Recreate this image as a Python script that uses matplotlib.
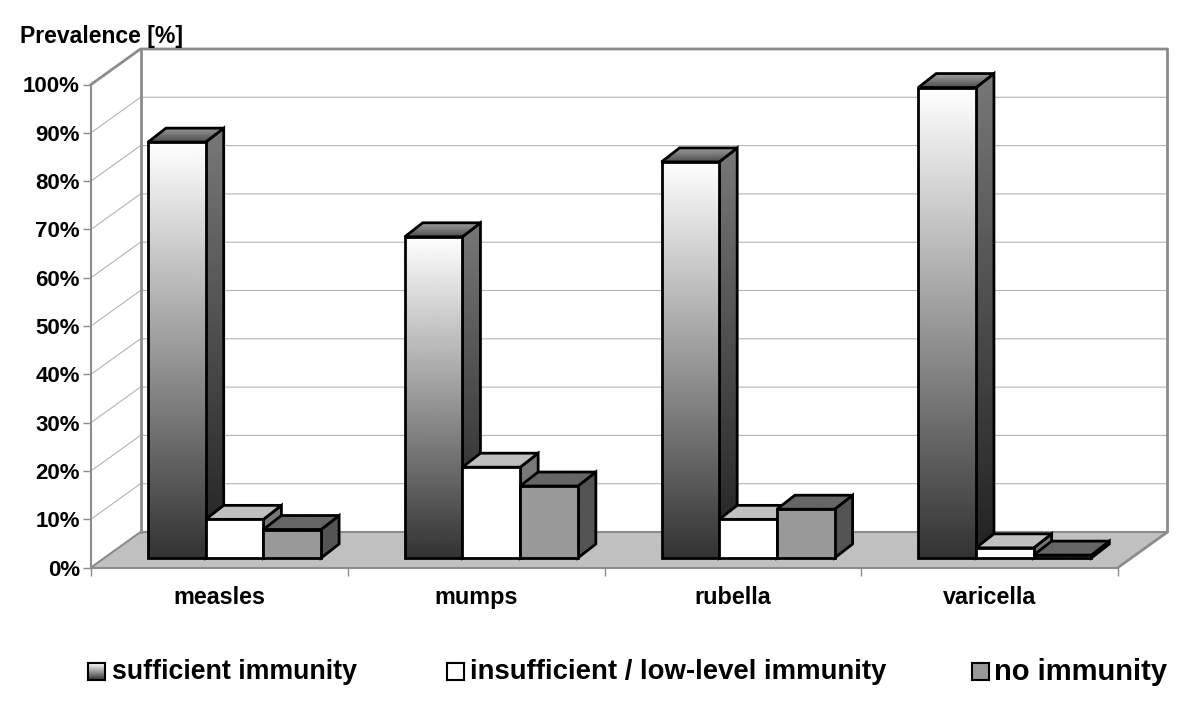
import numpy as np
from matplotlib import pyplot as plt
from matplotlib.patches import Polygon

plt.rcParams['font.family'] = ['Liberation Sans', 'DejaVu Sans']
plt.rcParams['font.weight'] = 'bold'

categories = ['measles', 'mumps', 'rubella', 'varicella']
sufficient = [86.1, 66.5, 82.0, 97.4]
insufficient = [8.0, 18.8, 8.0, 2.1]
no_immunity = [5.9, 14.9, 10.1, 0.6]
legend_labels = ['sufficient immunity', 'insufficient / low-level immunity', 'no immunity']
y_ticks = [0, 10, 20, 30, 40, 50, 60, 70, 80, 90, 100]

W, H = 1200, 708
fig = plt.figure(figsize=(W / 100, H / 100), dpi=100)
# axes = the front plane of the fake 3d box
ax = fig.add_axes([91 / W, (H - 567.5) / H, 1027 / W, 483 / H])
ax.set_xlim(0, 4)
ax.set_ylim(0, 100)

# sizes of the 3d look, in data units
px_x = 4 / 1027
px_y = 100 / 483
wall_dx, wall_dy = 49.5 * px_x, 35.5 * px_y
depth_x, depth_y = 18 * px_x, 14 * px_y
bar_w = 57.7 * px_x
bar_x0, bar_y0 = 57 * px_x, 9.5 * px_y

GREY = '#8c8c8c'
GRID = '#b4b4b4'

ax.patch.set_visible(False)
for s in ['top', 'right']:
    ax.spines[s].set_visible(False)
for s in ['left', 'bottom']:
    ax.spines[s].set_color(GREY)
    ax.spines[s].set_linewidth(1.5)
    ax.spines[s].set_zorder(1)

# floor
ax.add_patch(Polygon([(0, 0), (4, 0), (4 + wall_dx, wall_dy), (wall_dx, wall_dy)],
                     closed=True, fc='#c0c0c0', ec='none', clip_on=False, zorder=0.5))
# walls and gridlines
for t in y_ticks[1:-1]:
    ax.plot([0, wall_dx, 4 + wall_dx], [t, t + wall_dy, t + wall_dy], color=GRID, lw=0.8,
            clip_on=False, zorder=0.6)
ax.plot([0, wall_dx, 4 + wall_dx, 4 + wall_dx, 4], [100, 100 + wall_dy, 100 + wall_dy, wall_dy, 0],
        color=GREY, lw=2, clip_on=False, zorder=0.7)
ax.plot([wall_dx, wall_dx], [100 + wall_dy, wall_dy], color=GREY, lw=2, clip_on=False, zorder=0.7)
ax.plot([0, wall_dx, 4 + wall_dx], [0, wall_dy, wall_dy], color=GREY, lw=1.5, clip_on=False, zorder=0.7)

z = [2.0]


def gradient(poly, top, bottom, y0, y1):
    # vertical gray gradient clipped to a polygon
    xs = [p[0] for p in poly]
    g = np.linspace(top, bottom, 256).reshape(-1, 1)
    im = ax.imshow(g, cmap='gray', vmin=0, vmax=1, aspect='auto',
                   extent=[min(xs), max(xs), y0, y1], zorder=z[0], interpolation='bilinear')
    # images get cut at the axes box otherwise, and the tallest bar sticks out of it
    im.set_clip_box(fig.bbox)
    im.set_clip_path(Polygon(poly, closed=True, transform=ax.transData))
    z[0] += 0.01


def outline(poly):
    ax.add_patch(Polygon(poly, closed=True, fill=False, ec='black', lw=2, joinstyle='miter',
                         clip_on=False, zorder=z[0]))
    z[0] += 0.01


def bar(x, v, styles):
    y0 = bar_y0
    y1 = bar_y0 + v
    front = [(x, y0), (x + bar_w, y0), (x + bar_w, y1), (x, y1)]
    side = [(x + bar_w, y0), (x + bar_w + depth_x, y0 + depth_y),
            (x + bar_w + depth_x, y1 + depth_y), (x + bar_w, y1)]
    top = [(x, y1), (x + bar_w, y1), (x + bar_w + depth_x, y1 + depth_y), (x + depth_x, y1 + depth_y)]
    gradient(side, styles[1][0], styles[1][1], y0, y1 + depth_y)
    outline(side)
    gradient(top, styles[2][0], styles[2][1], y1, y1 + depth_y)
    outline(top)
    gradient(front, styles[0][0], styles[0][1], y0, y1)
    outline(front)


# (front, side, top), each (top gray, bottom gray)
style_suff = [(1.0, 0.2), (0.47, 0.13), (0.62, 0.3)]
style_ins = [(1.0, 1.0), (0.47, 0.47), (0.75, 0.75)]
style_no = [(0.6, 0.6), (0.33, 0.33), (0.4, 0.4)]

for i in range(len(categories)):
    x = i + bar_x0
    bar(x, sufficient[i], style_suff)
    bar(x + bar_w, insufficient[i], style_ins)
    bar(x + 2 * bar_w, no_immunity[i], style_no)

ax.set_xlim(0, 4)
ax.set_ylim(0, 100)

ax.set_yticks(y_ticks)
ax.set_yticklabels([str(t) + '%' for t in y_ticks], fontsize=16, fontweight='bold')
ax.tick_params(axis='y', length=6, width=1, color=GREY, pad=2)
ax.set_xticks(range(5))
ax.set_xticklabels([])
ax.tick_params(axis='x', which='major', length=6, width=1, color=GREY)
ax.set_xticks([i + 0.5 for i in range(4)], minor=True)
ax.set_xticklabels(categories, minor=True, fontsize=16.8, fontweight='bold')
ax.tick_params(axis='x', which='minor', length=0, pad=13)

fig.text(20 / W, 1 - 36 / H, 'Prevalence [%]', fontsize=16.6, fontweight='bold', va='center', ha='left')

# legend, placed by hand because the entries are spread over the width
swatch_x = [88, 447, 972]
text_x = [112, 470, 994]
text_size = [19.3, 19.8, 21]
fills = [None, '#ffffff', '#999999']
for i in range(3):
    sw = fig.add_axes([swatch_x[i] / W, 1 - 680 / H, 17 / W, 17 / H])
    sw.set_xticks([])
    sw.set_yticks([])
    for s in sw.spines.values():
        s.set_linewidth(1.5)
    if fills[i] is None:
        sw.imshow(np.linspace(1, 0.2, 64).reshape(-1, 1), cmap='gray', vmin=0, vmax=1, aspect='auto')
    else:
        sw.set_facecolor(fills[i])
    fig.text(text_x[i] / W, 1 - 672 / H, legend_labels[i], fontsize=text_size[i], fontweight='bold',
             va='center', ha='left')

fig.savefig('out.png', dpi=100)
